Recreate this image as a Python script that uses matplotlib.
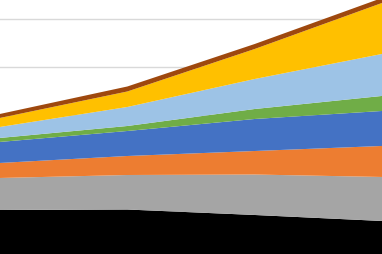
import matplotlib
matplotlib.use("Agg")
import matplotlib.pyplot as plt
import numpy as np

periods = [0, 1, 2, 3]
series_names = ["Black", "Gray", "Orange", "Blue", "Green", "Light blue", "Yellow", "Brown"]
black = [10.21, 10.31, 9.17, 7.92]
gray = [6.67, 7.19, 8.43, 9.17]
orange = [3.13, 3.96, 4.90, 6.46]
blue = [4.38, 5.21, 6.67, 7.29]
green = [0.83, 1.04, 2.08, 3.13]
light_blue = [2.29, 3.96, 6.25, 8.75]
yellow = [1.88, 3.23, 6.25, 10.62]
brown = [0.83, 1.04, 1.04, 1.04]

colors = ["#000000", "#A5A5A5", "#ED7D31", "#4472C4", "#70AD47", "#9DC3E6", "#FFC000", "#9E480E"]

fig = plt.figure(figsize=(3.82, 2.55), dpi=100)
ax = fig.add_axes([0, 0, 1, 1])
ax.stackplot(periods, black, gray, orange, blue, green, light_blue, yellow, brown,
             colors=colors, labels=series_names, linewidth=0, zorder=2)
ax.set_xlim(0, 3)
ax.set_ylim(260 / 4.8 - 255 / 4.8, 260 / 4.8)
ax.set_yticks([10, 20, 30, 40, 50])
ax.yaxis.grid(True, color="#D9D9D9", linewidth=1.0, zorder=0)
ax.set_axisbelow(True)
ax.tick_params(left=False, bottom=False, labelleft=False, labelbottom=False)
for s in ax.spines.values():
    s.set_visible(False)
fig.savefig("out.png", dpi=100)
